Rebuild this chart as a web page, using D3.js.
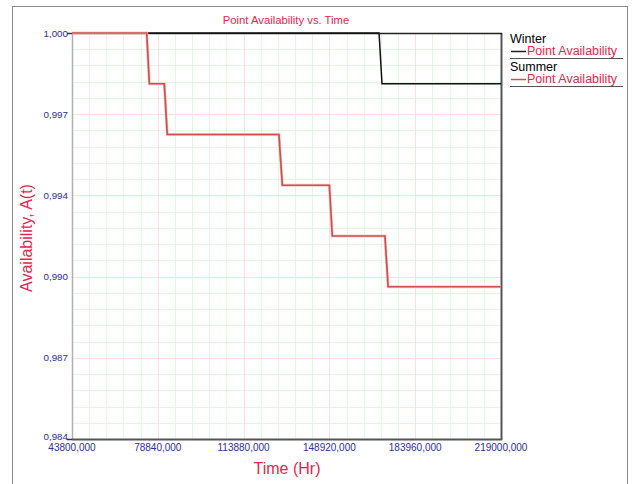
<!DOCTYPE html>
<html>
<head>
<meta charset="utf-8">
<script src="https://cdn.jsdelivr.net/npm/d3@7"></script>
<style>
  body { margin: 0; background: #fff; }
  svg { display: block; font-family: "Liberation Sans", Arial, sans-serif; }
</style>
</head>
<body>
<div id="chart"></div>
<script>
// chart values
var xTicks = [43800, 78840, 113880, 148920, 183960, 219000];
var yTicks = [0.984, 0.9872, 0.9904, 0.9936, 0.9968, 1.0];

var winterTime  = [43800, 169200, 170400, 219000];
var winterAvail = [1.000, 1.000, 0.998, 0.998];

var summerTime  = [43800, 74300, 75400, 81500, 82700, 128300, 129700, 148900, 150100, 171600, 172900, 219000];
var summerAvail = [1.000, 1.000, 0.998, 0.998, 0.996, 0.996, 0.994, 0.994, 0.992, 0.992, 0.990, 0.990];

var seriesNames = ["Winter", "Summer"];
var seriesLabel = "Point Availability";

var plot = {left: 72, right: 501, top: 33, bottom: 439};
var crimson = "#e0284f";
var tickBlue = "#2e2e9e";

var svg = d3.select("#chart").append("svg")
    .attr("width", 634)
    .attr("height", 484);

// outer frame
svg.append("rect")
  .attr("x", 12.5).attr("y", 6.5)
  .attr("width", 615).attr("height", 500)
  .attr("fill", "none")
  .attr("stroke", "#8a8a8a");

var x = d3.scaleLinear().domain([xTicks[0], xTicks[xTicks.length - 1]]).range([plot.left, plot.right]);
var y = d3.scaleLinear().domain([yTicks[0], yTicks[yTicks.length - 1]]).range([plot.bottom, plot.top]);

var fmt = d3.formatLocale({decimal: ",", thousands: ".", grouping: [3], currency: ["", ""]}).format(".3f");

// minor grid (5 per major interval)
var minorX = [], minorY = [];
for (var i = 0; i < xTicks.length - 1; i++)
  for (var k = 1; k < 5; k++) minorX.push(xTicks[i] + (xTicks[i + 1] - xTicks[i]) * k / 5);
for (var j = 0; j < yTicks.length - 1; j++)
  for (var m = 1; m < 5; m++) minorY.push(yTicks[j] + (yTicks[j + 1] - yTicks[j]) * m / 5);

var grid = svg.append("g");
grid.selectAll(".mx").data(minorX).enter().append("line")
  .attr("x1", d => Math.round(x(d)) + 0.5).attr("x2", d => Math.round(x(d)) + 0.5)
  .attr("y1", plot.top).attr("y2", plot.bottom)
  .attr("stroke", "#e0f9e0");
grid.selectAll(".my").data(minorY).enter().append("line")
  .attr("y1", d => Math.round(y(d)) + 0.5).attr("y2", d => Math.round(y(d)) + 0.5)
  .attr("x1", plot.left).attr("x2", plot.right)
  .attr("stroke", "#e0f9e0");
grid.selectAll(".Mx").data(xTicks.slice(1, -1)).enter().append("line")
  .attr("x1", d => Math.round(x(d)) + 0.5).attr("x2", d => Math.round(x(d)) + 0.5)
  .attr("y1", plot.top).attr("y2", plot.bottom)
  .attr("stroke", "#fcdfe2");
grid.selectAll(".My").data(yTicks.slice(1, -1)).enter().append("line")
  .attr("y1", d => Math.round(y(d)) + 0.5).attr("y2", d => Math.round(y(d)) + 0.5)
  .attr("x1", plot.left).attr("x2", plot.right)
  .attr("stroke", "#fcdfe2");

// plot frame
svg.append("line").attr("x1", plot.left + 0.5).attr("x2", plot.left + 0.5).attr("y1", plot.top).attr("y2", plot.bottom)
  .attr("stroke", "#b0b0b0").attr("stroke-width", 1.5);
svg.append("line").attr("x1", plot.left).attr("x2", plot.right + 1).attr("y1", plot.bottom + 0.5).attr("y2", plot.bottom + 0.5)
  .attr("stroke", "#555").attr("stroke-width", 2);
svg.append("line").attr("x1", plot.right + 0.5).attr("x2", plot.right + 0.5).attr("y1", plot.top).attr("y2", plot.bottom + 1)
  .attr("stroke", "#555").attr("stroke-width", 2);
svg.append("line").attr("x1", plot.left).attr("x2", plot.right + 1).attr("y1", plot.top + 0.5).attr("y2", plot.top + 0.5)
  .attr("stroke", "#222").attr("stroke-width", 1.5);
// end ticks on y axis
[yTicks[0], yTicks[yTicks.length - 1]].forEach(function(v) {
  svg.append("line").attr("x1", plot.left - 5).attr("x2", plot.left)
    .attr("y1", Math.round(y(v)) + 0.5).attr("y2", Math.round(y(v)) + 0.5)
    .attr("stroke", "#333").attr("stroke-width", 1.5);
});

// tick labels
svg.append("g").selectAll("text").data(yTicks).enter().append("text")
  .attr("x", plot.left - 4)
  .attr("y", d => y(d) + 3.5 - (d === yTicks[0] ? 3 : 0))
  .attr("text-anchor", "end")
  .attr("font-size", 9.8)
  .attr("fill", tickBlue)
  .text(d => fmt(d));
svg.append("g").selectAll("text").data(xTicks).enter().append("text")
  .attr("x", d => x(d))
  .attr("y", plot.bottom + 12)
  .attr("text-anchor", "middle")
  .attr("font-size", 10)
  .attr("fill", tickBlue)
  .text(d => fmt(d));

// titles
svg.append("text").attr("x", 286).attr("y", 24).attr("text-anchor", "middle")
  .attr("font-size", 11.3).attr("fill", crimson).text("Point Availability vs. Time");
svg.append("text").attr("x", 287).attr("y", 474).attr("text-anchor", "middle")
  .attr("font-size", 16).attr("fill", crimson).text("Time (Hr)");
svg.append("text").attr("transform", "translate(32,238) rotate(-90)").attr("text-anchor", "middle")
  .attr("font-size", 16).attr("fill", crimson).text("Availability, A(t)");

// series
var line = d3.line().x(d => x(d[0])).y(d => y(d[1]));
var winter = d3.zip(winterTime, winterAvail);
var summer = d3.zip(summerTime, summerAvail);

svg.append("path").datum(winter)
  .attr("fill", "none").attr("stroke", "#111").attr("stroke-width", 1.5)
  .attr("d", line);
svg.append("path").datum(summer)
  .attr("fill", "none").attr("stroke", "#f5caca").attr("stroke-width", 3)
  .attr("d", line);
svg.append("path").datum(summer)
  .attr("fill", "none").attr("stroke", "#d05050").attr("stroke-width", 1.7)
  .attr("d", line);

// legend
var lg = svg.append("g").attr("font-size", 12.5);
var colors = ["#222", "#d05050"];
seriesNames.forEach(function(name, i) {
  var y0 = 43 + i * 28;
  lg.append("text").attr("x", 510).attr("y", y0).attr("fill", "#000").text(name);
  lg.append("line").attr("x1", 511).attr("x2", 526).attr("y1", y0 + 8.5).attr("y2", y0 + 8.5)
    .attr("stroke", colors[i]).attr("stroke-width", 1.5);
  lg.append("text").attr("x", 527).attr("y", y0 + 12).attr("fill", crimson).text(seriesLabel);
  lg.append("line").attr("x1", 510).attr("x2", 623).attr("y1", y0 + 15.5).attr("y2", y0 + 15.5)
    .attr("stroke", "#555").attr("stroke-width", 1.2);
});
</script>
</body>
</html>
